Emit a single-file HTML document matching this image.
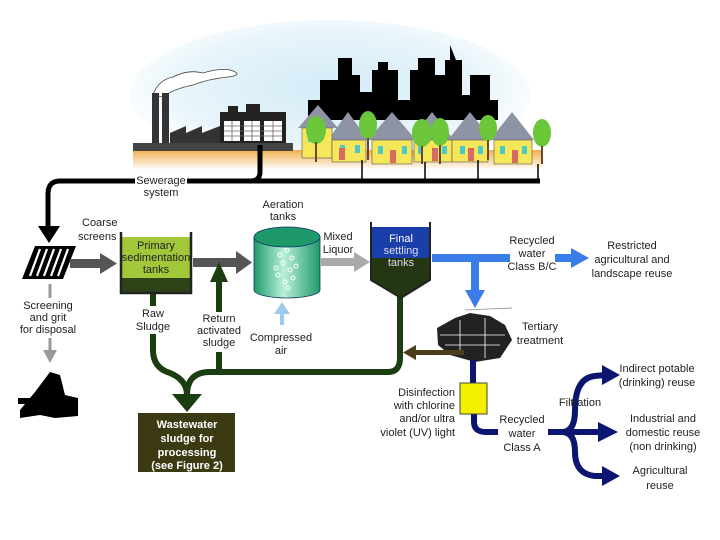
<!DOCTYPE html>
<html><head><meta charset="utf-8"><style>
html,body{margin:0;padding:0;background:#fff}
svg{display:block}
text{font-family:"Liberation Sans",Arial,sans-serif;font-size:11px;fill:#222}
</style></head><body>
<svg width="720" height="540" viewBox="0 0 720 540" xmlns="http://www.w3.org/2000/svg">
<defs>
<radialGradient id="sky" cx="0.5" cy="0.45" r="0.55">
<stop offset="0" stop-color="#d3ebf7"/><stop offset="0.7" stop-color="#e9f5fb"/><stop offset="1" stop-color="#fff"/></radialGradient>
<linearGradient id="gr" x1="0" y1="0" x2="0" y2="1"><stop offset="0" stop-color="#f0b050"/><stop offset="1" stop-color="#fff"/></linearGradient>
<linearGradient id="cyl" x1="0" y1="0" x2="1" y2="0"><stop offset="0" stop-color="#1e9a6a"/><stop offset="0.45" stop-color="#b8f0da"/><stop offset="1" stop-color="#1e9a6a"/></linearGradient>
</defs>
<ellipse cx="330" cy="95" rx="200" ry="75" fill="url(#sky)"/>
<rect x="133" y="150" width="410" height="20" fill="url(#gr)"/>
<path d="M153 95 q5-15 20-18 q15-8 30-4 q20-6 30 -2 q10 4 -5 6 q-20 2-35 8 q-20 4-30 12 z" fill="#fff" stroke="#444" stroke-width="0.8"/>
<rect x="152" y="93" width="7" height="52" fill="#333"/>
<rect x="162" y="93" width="7" height="52" fill="#333"/>
<path d="M170 145 L170 133 L186 126 L186 133 L202 126 L202 133 L220 126 L220 145 Z" fill="#333"/>
<rect x="220" y="112" width="66" height="33" fill="#222"/>
<rect x="228" y="106" width="10" height="6" fill="#222"/><rect x="246" y="104" width="14" height="8" fill="#222"/>
<g fill="#fff"><rect x="224" y="121" width="16" height="20"/><rect x="244" y="121" width="16" height="20"/><rect x="264" y="121" width="18" height="20"/></g>
<g stroke="#666" stroke-width="0.8"><line x1="224" y1="126" x2="282" y2="126"/><line x1="224" y1="131" x2="282" y2="131"/><line x1="224" y1="136" x2="282" y2="136"/><line x1="232" y1="121" x2="232" y2="141"/><line x1="252" y1="121" x2="252" y2="141"/><line x1="273" y1="121" x2="273" y2="141"/></g>
<rect x="133" y="143" width="160" height="8" fill="#444"/>
<path d="M308 120 L308 100 L320 100 L320 80 L338 80 L338 58 L352 58 L352 75 L360 75 L360 92 L372 92 L372 70 L378 70 L378 62 L388 62 L388 70 L398 70 L398 100 L410 100 L410 70 L418 70 L418 58 L435 58 L435 75 L445 75 L445 60 L450 60 L450 45 L456 60 L462 60 L462 95 L470 95 L470 75 L490 75 L490 100 L498 100 L498 120 Z" fill="#000"/>
<g>
<g fill="#8e94a6"><polygon points="298,128 318,105 338,128"/><polygon points="328,140 348,112 368,140"/><polygon points="368,140 392,112 416,140"/><polygon points="410,140 432,112 454,140"/><polygon points="448,140 470,112 492,140"/><polygon points="490,140 512,112 534,140"/></g>
<g fill="#f5e65a" stroke="#555" stroke-width="0.6"><rect x="302" y="128" width="30" height="30"/><rect x="332" y="140" width="34" height="22"/><rect x="372" y="140" width="40" height="24"/><rect x="414" y="140" width="38" height="22"/><rect x="452" y="140" width="36" height="22"/><rect x="494" y="140" width="38" height="24"/></g>
<g fill="#4cc8c8"><rect x="308" y="134" width="5" height="8"/><rect x="340" y="145" width="5" height="8"/><rect x="355" y="145" width="5" height="8"/><rect x="378" y="146" width="5" height="8"/><rect x="402" y="146" width="5" height="8"/><rect x="418" y="146" width="5" height="8"/><rect x="442" y="146" width="5" height="8"/><rect x="460" y="146" width="5" height="8"/><rect x="478" y="146" width="5" height="8"/><rect x="500" y="146" width="5" height="8"/><rect x="522" y="146" width="5" height="8"/></g>
<g fill="#d96a60"><rect x="339" y="148" width="6" height="12"/><rect x="390" y="150" width="6" height="13"/><rect x="432" y="148" width="6" height="13"/><rect x="468" y="148" width="6" height="13"/><rect x="512" y="150" width="6" height="13"/></g>
<g fill="#6cc63a"><ellipse cx="316" cy="130" rx="10" ry="14"/><ellipse cx="368" cy="125" rx="9" ry="14"/><ellipse cx="422" cy="133" rx="10" ry="14"/><ellipse cx="440" cy="132" rx="9" ry="14"/><ellipse cx="488" cy="128" rx="9" ry="13"/><ellipse cx="542" cy="133" rx="9" ry="14"/></g>
<g stroke="#6a4a2a" stroke-width="2"><line x1="316" y1="142" x2="316" y2="162"/><line x1="368" y1="138" x2="368" y2="160"/><line x1="422" y1="146" x2="422" y2="164"/><line x1="440" y1="145" x2="440" y2="164"/><line x1="488" y1="140" x2="488" y2="160"/><line x1="542" y1="146" x2="542" y2="164"/></g>
</g>
<g stroke="#000" fill="none">
<path d="M540 181 L60 181 Q48 181 48 194 L48 230" stroke-width="5"/>
<path d="M260 145 L260 172 Q260 181 250 181" stroke-width="5"/>
<g stroke-width="1.5"><line x1="362" y1="160" x2="362" y2="181"/><line x1="425" y1="162" x2="425" y2="181"/><line x1="478" y1="160" x2="478" y2="181"/><line x1="538" y1="164" x2="538" y2="181"/></g>
</g>
<polygon points="38,226 60,226 49,243" fill="#000"/>
<rect x="135" y="175" width="52" height="20" fill="#fff"/>
<text x="161" y="184" text-anchor="middle">Sewerage</text>
<text x="161" y="196" text-anchor="middle">system</text>
<text x="82" y="226">Coarse</text><text x="78" y="240">screens</text>
<polygon points="35,246 76,246 63,279 22,279" fill="#000"/>
<g stroke="#fff" stroke-width="2.2"><line x1="40" y1="249" x2="30" y2="276"/><line x1="47" y1="249" x2="37" y2="276"/><line x1="54" y1="249" x2="44" y2="276"/><line x1="61" y1="249" x2="51" y2="276"/><line x1="68" y1="249" x2="58" y2="276"/></g>
<rect x="70" y="259" width="32" height="9" fill="#555"/>
<polygon points="100,253 117,263.5 100,274" fill="#555"/>
<line x1="50" y1="284" x2="50" y2="298" stroke="#999" stroke-width="3"/>
<text x="48" y="309" text-anchor="middle" fill="#333">Screening</text>
<text x="48" y="321" text-anchor="middle">and grit</text>
<text x="48" y="333" text-anchor="middle">for disposal</text>
<line x1="50" y1="338" x2="50" y2="352" stroke="#999" stroke-width="3"/>
<polygon points="43,350 57,350 50,363" fill="#999"/>
<path d="M20 410 L35 392 L50 372 L60 375 L65 395 L78 398 L78 416 L55 418 L40 415 L20 418 Z" fill="#000"/>
<rect x="18" y="398" width="12" height="6" fill="#000"/>
<rect x="121" y="237" width="70" height="41" fill="#a2c83a"/>
<rect x="121" y="278" width="70" height="14" fill="#2e4418"/>
<path d="M121 232 L121 293 L191 293 L191 232" fill="none" stroke="#222" stroke-width="2.5"/>
<text x="156" y="249" text-anchor="middle" fill="#1e4a10">Primary</text>
<text x="156" y="261" text-anchor="middle" fill="#1e4a10">sedimentation</text>
<text x="156" y="273" text-anchor="middle" fill="#1e4a10">tanks</text>
<rect x="193" y="258" width="45" height="9" fill="#555"/>
<polygon points="236,251 252,262.5 236,274" fill="#555"/>
<g stroke="#1a3d12" fill="none" stroke-width="6">
<path d="M153 294 L153 350 Q153 368 170 373 Q187 380 187 395"/>
<path d="M187 395 Q187 372 210 372 L388 372 Q400 372 400 358 L400 296"/>
<line x1="219" y1="372" x2="219" y2="278"/>
</g>
<polygon points="210,282 228,282 219,262" fill="#1a3d12"/>
<polygon points="172,394 202,394 187,412" fill="#1a3d12"/>
<rect x="134" y="306" width="38" height="28" fill="#fff"/>
<rect x="196" y="312" width="46" height="40" fill="#fff"/>
<text x="153" y="317" text-anchor="middle">Raw</text>
<text x="153" y="330" text-anchor="middle">Sludge</text>
<text x="219" y="322" text-anchor="middle">Return</text>
<text x="219" y="334" text-anchor="middle">activated</text>
<text x="219" y="346" text-anchor="middle">sludge</text>
<rect x="138" y="413" width="97" height="59" fill="#3b3a12"/>
<text x="187" y="428" text-anchor="middle" style="fill:#fff;font-weight:bold">Wastewater</text>
<text x="187" y="442" text-anchor="middle" style="fill:#fff;font-weight:bold">sludge for</text>
<text x="187" y="456" text-anchor="middle" style="fill:#fff;font-weight:bold">processing</text>
<text x="187" y="469" text-anchor="middle" style="fill:#fff;font-weight:bold">(see Figure 2)</text>
<text x="283" y="208" text-anchor="middle">Aeration</text>
<text x="283" y="220" text-anchor="middle">tanks</text>
<path d="M254 237 L254 290 A33 8 0 0 0 320 290 L320 237" fill="url(#cyl)" stroke="#136" stroke-width="0.8"/>
<ellipse cx="287" cy="237" rx="33" ry="10" fill="#1e9a6a" stroke="#136" stroke-width="0.8"/>
<g fill="none" stroke="#fff" stroke-width="1"><circle cx="280" cy="255" r="2"/><circle cx="287" cy="250" r="2"/><circle cx="292" cy="258" r="2"/><circle cx="283" cy="263" r="2"/><circle cx="290" cy="270" r="2"/><circle cx="278" cy="275" r="2"/><circle cx="285" cy="282" r="2"/><circle cx="293" cy="278" r="2"/><circle cx="276" cy="268" r="2"/><circle cx="296" cy="266" r="2"/><circle cx="288" cy="288" r="2"/></g>
<line x1="282" y1="325" x2="282" y2="312" stroke="#9ccbef" stroke-width="4"/>
<polygon points="274,314 290,314 282,302" fill="#9ccbef"/>
<text x="281" y="341" text-anchor="middle">Compressed</text>
<text x="281" y="354" text-anchor="middle">air</text>
<text x="338" y="240" text-anchor="middle">Mixed</text>
<text x="338" y="253" text-anchor="middle">Liquor</text>
<rect x="321" y="258" width="35" height="8" fill="#aaa"/>
<polygon points="354,252 370,262 354,272" fill="#aaa"/>
<path d="M372 227 L430 227 L430 280 L401 297 L372 280 Z" fill="#243612"/>
<rect x="372" y="227" width="58" height="31" fill="#1a3fa8"/>
<path d="M371 222 L371 280 L401 298 L430 280 L430 222" fill="none" stroke="#222" stroke-width="2"/>
<text x="401" y="242" text-anchor="middle" style="fill:#fff">Final</text>
<text x="401" y="254" text-anchor="middle" style="fill:#dde">settling</text>
<text x="401" y="266" text-anchor="middle" style="fill:#dde">tanks</text>
<rect x="432" y="254" width="78" height="8" fill="#3b7de8"/>
<rect x="471" y="258" width="8" height="34" fill="#3b7de8"/>
<polygon points="465,290 485,290 475,308" fill="#3b7de8"/>
<rect x="555" y="254" width="20" height="8" fill="#3b7de8"/>
<polygon points="571,248 589,258 571,268" fill="#3b7de8"/>
<text x="532" y="244" text-anchor="middle">Recycled</text>
<text x="532" y="257" text-anchor="middle">water</text>
<text x="532" y="270" text-anchor="middle">Class B/C</text>
<text x="632" y="249" text-anchor="middle">Restricted</text>
<text x="632" y="263" text-anchor="middle">agricultural and</text>
<text x="632" y="277" text-anchor="middle">landscape reuse</text>
<path d="M437 328 L455 318 L470 313 L490 316 L505 325 L512 340 L500 358 L475 362 L450 355 L438 345 Z" fill="#222"/>
<g stroke="#fff" stroke-width="0.8"><line x1="440" y1="335" x2="505" y2="335"/><line x1="445" y1="345" x2="500" y2="345"/><line x1="460" y1="320" x2="460" y2="355"/><line x1="485" y1="318" x2="485" y2="358"/></g>
<line x1="465" y1="310" x2="512" y2="308" stroke="#888" stroke-width="0.8"/>
<text x="540" y="330" text-anchor="middle">Tertiary</text>
<text x="540" y="344" text-anchor="middle">treatment</text>
<rect x="414" y="350" width="50" height="5" fill="#4a3f1a"/>
<polygon points="416,345 416,360 403,352.5" fill="#4a3f1a"/>
<g stroke="#0c1670" fill="none" stroke-width="6">
<line x1="473" y1="360" x2="473" y2="384"/>
<path d="M474 414 L474 422 Q474 432 486 432 L498 432"/>
<path d="M548 432 L600 432"/>
<path d="M562 432 Q575 432 575 410 Q575 378 595 376 L605 375"/>
<path d="M562 432 Q575 432 575 452 Q575 474 595 476 L605 476"/>
</g>
<polygon points="602,365 620,375 602,385" fill="#0c1670"/>
<polygon points="598,422 618,432 598,442" fill="#0c1670"/>
<polygon points="602,466 620,476 602,486" fill="#0c1670"/>
<rect x="460" y="383" width="27" height="31" fill="#f5f000" stroke="#444" stroke-width="1"/>
<text x="455" y="396" text-anchor="end">Disinfection</text>
<text x="455" y="409" text-anchor="end">with chlorine</text>
<text x="455" y="422" text-anchor="end">and/or ultra</text>
<text x="455" y="436" text-anchor="end">violet (UV) light</text>
<text x="522" y="423" text-anchor="middle">Recycled</text>
<text x="522" y="437" text-anchor="middle">water</text>
<text x="522" y="451" text-anchor="middle">Class A</text>
<text x="580" y="406" text-anchor="middle">Filtration</text>
<text x="657" y="372" text-anchor="middle">Indirect potable</text>
<text x="657" y="386" text-anchor="middle">(drinking) reuse</text>
<text x="663" y="422" text-anchor="middle">Industrial and</text>
<text x="663" y="436" text-anchor="middle">domestic reuse</text>
<text x="663" y="450" text-anchor="middle">(non drinking)</text>
<text x="660" y="474" text-anchor="middle">Agricultural</text>
<text x="660" y="489" text-anchor="middle">reuse</text>
</svg>
</body></html>
